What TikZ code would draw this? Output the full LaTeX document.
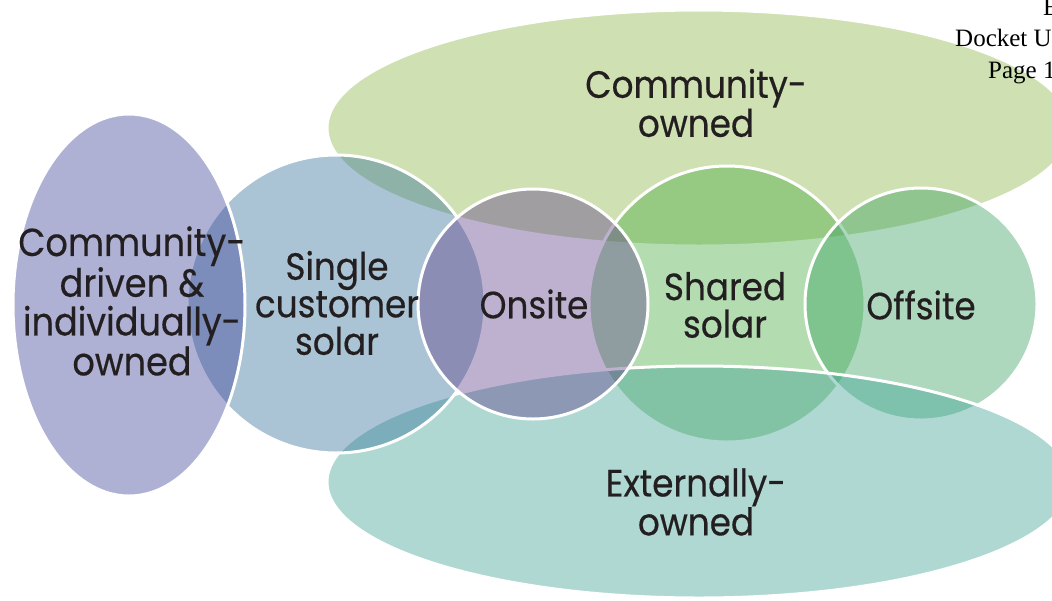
\documentclass[tikz,border=0pt]{standalone}
\usepackage{fontspec}
\setmainfont{Liberation Serif}
\newfontfamily\rond[FakeStretch=0.9,FakeBold=0.4]{Poppins}
\usetikzlibrary{shapes.geometric}

\definecolor{cCommunaute}{RGB}{135,178,63}
\definecolor{cPartage}{RGB}{65,168,58}
\definecolor{cHorsSite}{RGB}{50,158,93}
\definecolor{cExterne}{RGB}{55,158,145}
\definecolor{cClient}{RGB}{45,108,150}
\definecolor{cGauche}{RGB}{53,60,148}
\definecolor{cSurPlace}{RGB}{90,60,135}
\definecolor{encre}{RGB}{35,31,32}

\begin{document}
\begin{tikzpicture}[x=1pt,y=-1pt]
	\tikzset{bulle/.style={ellipse, draw=white, line width=3pt, fill opacity=0.4, inner sep=0pt},
	etiquette/.style={align=center, inner sep=0pt, text=encre, font=\rond\fontsize{38}{37.5}\selectfont},
	entete/.style={anchor=base west, inner sep=0pt, font=\fontsize{25}{31}\selectfont}};

	\useasboundingbox (0,0) rectangle (1052,600);
	\clip (0,0) rectangle (1052,600);

	% formes, de la plus basse a la plus haute
	\foreach \nom/\x/\y/\l/\h/\coul in {communaute/699/128/744/236/cCommunaute,
		partage/727/304/276/276/cPartage, horssite/921/304/232/232/cHorsSite,
		externe/699/482/744/232/cExterne, client/336/304/298/298/cClient,
		gauche/129/305/232/382/cGauche, surplace/533/304/230/230/cSurPlace}{
		\node[bulle, fill=\coul, minimum width=\l pt, minimum height=\h pt] (\nom) at (\x,\y) {};
	}

	\foreach \nom/\x/\y/\texte in {tCommunaute/696/103/{Community-\\owned},
		tExterne/696/502/{Externally-\\owned}, tClient/337/303/{Single\\customer\\solar},
		tSurPlace/534/304/{Onsite}, tPartage/725/305/{Shared\\solar}, tHorsSite/921/305/{Offsite}}{
		\node[etiquette] (\nom) at (\x,\y) {\texte};
	}
	\node[etiquette, font=\rond\fontsize{39}{38.7}\selectfont] (tGauche) at (132,301)
		{Community-\\driven \&\\individually-\\owned};

	\node[entete] (hdrE) at (1043,15) {E};
	\node[entete] (hdrDocket) at (955,46.5) {Docket U};
	\node[entete] (hdrPage) at (988,78) {Page 1};
\end{tikzpicture}
\end{document}
